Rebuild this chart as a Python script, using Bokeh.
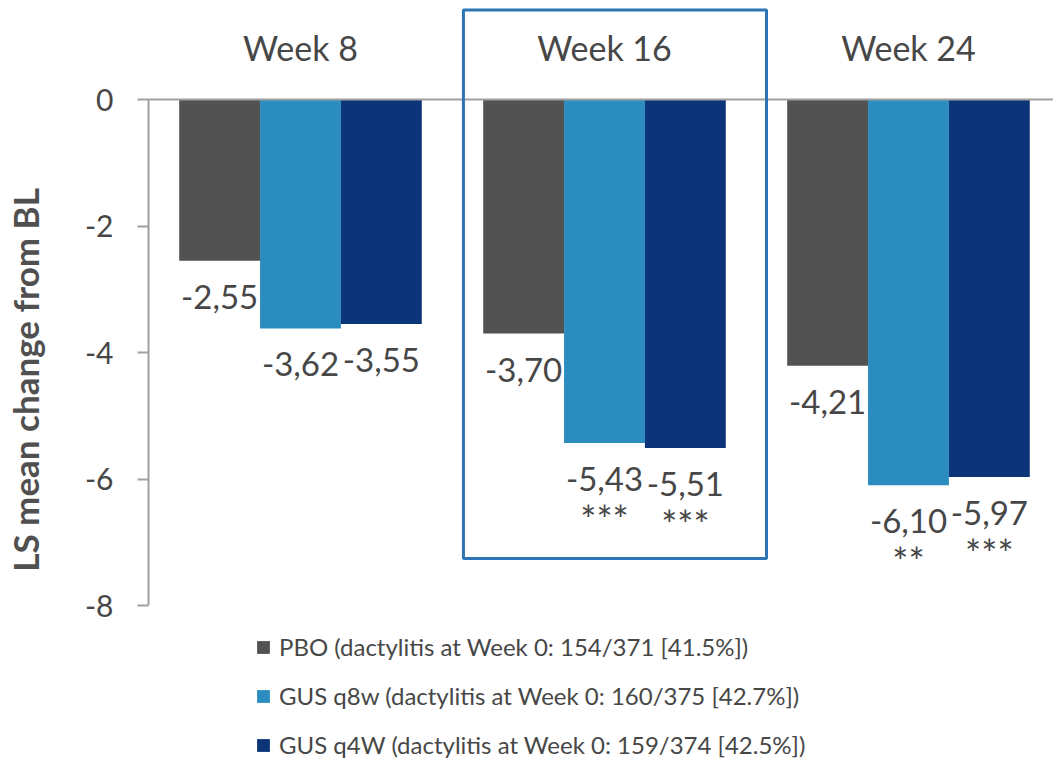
from bokeh.plotting import figure
from bokeh.models import (ColumnDataSource, FixedTicker, Span, BoxAnnotation,
                          Legend, LegendItem, Range1d, PrintfTickFormatter)
from bokeh.core.properties import value
from bokeh.transform import dodge
from bokeh.embed import file_html
from bokeh.resources import INLINE

# ---------------- data ----------------
weeks = ["Week 8", "Week 16", "Week 24"]
series_names = [
    "PBO (dactylitis at Week 0: 154/371 [41.5%])",
    "GUS q8w (dactylitis at Week 0: 160/375 [42.7%])",
    "GUS q4W (dactylitis at Week 0: 159/374 [42.5%])",
]
pbo = [-2.55, -3.70, -4.21]
q8w = [-3.62, -5.43, -6.10]
q4w = [-3.55, -5.51, -5.97]
stars_pbo = ["", "", ""]
stars_q8w = ["", "***", "**"]
stars_q4w = ["", "***", "***"]
y_ticks = [0, -2, -4, -6, -8]
highlight_week = "Week 16"
y_axis_title = "LS mean change from BL"

# ---------------- style ----------------
colors = ["#525252", "#2B8CBF", "#0B3578"]
text_color = "#474747"
axis_color = "#a0a0a0"
FONT = "Lato"

W, H = 1053, 759
LEFT = 145          # frame left inside figure
CAT_PX = 305        # pixels per category
PX_PER_UNIT = 63.25
Y0_PX = 99          # y=0 distance from frame top

x_end = (W - LEFT) / CAT_PX
y_top = Y0_PX / PX_PER_UNIT
y_bottom = -(H - Y0_PX) / PX_PER_UNIT

p = figure(width=W, height=H, output_backend="svg", toolbar_location=None,
           x_range=Range1d(0, x_end), y_range=Range1d(y_bottom, y_top),
           x_axis_location=None,
           min_border_left=LEFT, min_border_right=0, min_border_top=0,
           min_border_bottom=0)
p.outline_line_color = None
p.xgrid.visible = False
p.ygrid.visible = False
p.background_fill_color = "white"
p.border_fill_color = "white"

fmt = lambda v: f"{v:.2f}".replace(".", ",")
src = ColumnDataSource(dict(
    x=[i + 0.5 for i in range(len(weeks))],
    week=weeks,
    pbo=pbo, q8w=q8w, q4w=q4w,
    l_pbo=[fmt(v) for v in pbo], l_q8w=[fmt(v) for v in q8w], l_q4w=[fmt(v) for v in q4w],
    s_pbo=stars_pbo, s_q8w=stars_q8w, s_q4w=stars_q4w,
    zero=[0] * len(weeks),
))

BAR_W = 0.266
keys = ["pbo", "q8w", "q4w"]
offsets = [-BAR_W, 0.0, BAR_W]
renderers = []
for key, off, col in zip(keys, offsets, colors):
    r = p.vbar(x=dodge("x", off, range=p.x_range), top="zero", bottom=key,
               width=BAR_W, source=src, fill_color=col, line_color=None)
    renderers.append(r)
    p.text(x=dodge("x", off, range=p.x_range), y=key, text="l_" + key, source=src,
           text_align="center", text_baseline="middle", y_offset=36,
           text_font=value(FONT), text_font_size="33px", text_color=text_color)
    p.text(x=dodge("x", off, range=p.x_range), y=key, text="s_" + key, source=src,
           text_align="center", text_baseline="middle", y_offset=76,
           text_font=value(FONT), text_font_size="38px", text_color=text_color)

# week labels above the zero line
p.text(x="x", y="zero", text="week", source=src, text_align="center",
       text_baseline="middle", y_offset=-52, text_font=value(FONT),
       text_font_size="34px", text_color=text_color)

# zero line
p.add_layout(Span(location=0, dimension="width", line_color=axis_color, line_width=2))

# highlight box
hi = weeks.index(highlight_week)
p.add_layout(BoxAnnotation(left=hi + 0.036, right=hi + 1.033, top=1.415, bottom=-7.257,
                           fill_alpha=0, line_color="#2E75B6", line_alpha=1.0,
                           line_width=3))

# y axis
ax = p.yaxis[0]
ax.ticker = FixedTicker(ticks=y_ticks)
ax.formatter = PrintfTickFormatter(format="%d")
ax.bounds = (min(y_ticks), max(y_ticks))
ax.axis_line_color = axis_color
ax.axis_line_width = 2
ax.major_tick_line_color = axis_color
ax.major_tick_line_width = 2
ax.major_tick_in = 0
ax.major_tick_out = 11
ax.minor_tick_line_color = None
ax.major_label_standoff = 24
ax.major_label_text_font = FONT
ax.major_label_text_font_size = "30px"
ax.major_label_text_color = text_color
ax.axis_label = y_axis_title
ax.axis_label_text_font = FONT
ax.axis_label_text_font_style = "bold"
ax.axis_label_text_font_size = "35px"
ax.axis_label_text_color = "#505050"
ax.axis_label_standoff = 36

# legend
legend = Legend(items=[LegendItem(label=n, renderers=[r]) for n, r in zip(series_names, renderers)],
                location=(107, 0), orientation="vertical",
                glyph_width=16, glyph_height=16, label_standoff=8, spacing=20,
                padding=0, margin=0, border_line_color=None, background_fill_alpha=0,
                label_text_font=FONT, label_text_font_size="24px",
                label_text_color=text_color)
p.add_layout(legend)

open("out.html", "w").write(file_html(p, INLINE))
